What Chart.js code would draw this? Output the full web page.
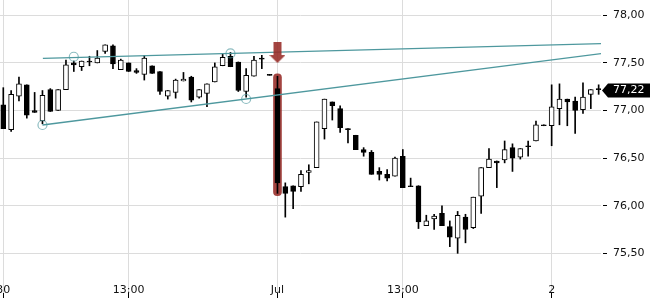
<!DOCTYPE html>
<html><head><meta charset="utf-8">
<script src="https://cdn.jsdelivr.net/npm/chart.js@4.4.1/dist/chart.umd.min.js"></script>
<style>html,body{margin:0;padding:0;background:#fff}</style>
</head><body>
<canvas id="c" width="650" height="300" style="width:650px;height:300px;display:block"></canvas>
<script>
// ---- data ----
const opens  = [77.06,76.80,77.15,77.27,77.00,76.89,77.22,77.00,77.22,77.50,77.46,77.52,77.50,77.62,77.68,77.43,77.50,77.42,77.38,77.47,
                77.41,77.15,77.19,77.31,77.35,77.14,77.18,77.30,77.47,77.57,77.51,77.20,77.36,77.55,77.38,77.23,76.20,76.21,76.20,76.35,
                76.40,76.81,77.09,77.02,76.81,76.74,76.59,76.56,76.36,76.33,76.31,76.52,76.21,76.21,75.79,75.86,75.92,75.78,75.66,75.88,
                75.77,76.10,76.40,76.47,76.48,76.61,76.51,76.63,76.68,76.85,76.84,77.02,77.12,77.10,77.01,77.17,77.23];
const highs  = [77.24,77.21,77.35,77.27,77.19,77.21,77.23,77.22,77.53,77.52,77.52,77.57,77.63,77.69,77.69,77.54,77.50,77.44,77.58,77.47,
                77.41,77.21,77.33,77.40,77.36,77.22,77.28,77.50,77.59,77.61,77.51,77.44,77.57,77.58,77.38,77.36,76.24,76.21,76.37,76.43,
                76.88,77.12,77.09,77.05,76.81,76.74,76.61,76.58,76.40,76.38,76.51,76.59,76.29,76.21,75.90,75.91,76.00,75.84,75.94,75.91,
                76.09,76.40,76.60,76.47,76.68,76.65,76.60,76.68,76.89,76.85,77.27,77.28,77.12,77.14,77.29,77.22,77.27];
const lows   = [76.81,76.78,77.10,76.92,76.98,76.86,76.99,77.00,77.22,77.41,77.42,77.47,77.50,77.60,77.44,77.43,77.41,77.39,77.32,77.39,
                77.17,77.12,77.13,77.31,77.09,77.13,77.04,77.30,77.47,77.46,77.20,77.14,77.36,77.44,77.37,76.13,75.88,75.97,76.15,76.23,
                76.40,76.70,76.90,76.77,76.66,76.59,76.52,76.33,76.27,76.26,76.31,76.19,76.20,75.76,75.79,75.75,75.79,75.57,75.50,75.61,
                75.76,75.92,76.40,76.19,76.45,76.36,76.49,76.52,76.68,76.84,76.63,76.85,76.84,76.76,76.97,77.02,77.17];
const closes = [76.81,77.17,77.28,76.95,76.98,77.16,76.99,77.22,77.48,77.48,77.52,77.51,77.55,77.69,77.49,77.53,77.41,77.40,77.55,77.39,
                77.20,77.21,77.32,77.33,77.11,77.22,77.28,77.46,77.56,77.46,77.21,77.37,77.53,77.54,77.37,76.24,76.13,76.15,76.33,76.37,
                76.88,77.12,77.05,76.82,76.80,76.59,76.56,76.33,76.33,76.29,76.50,76.19,76.20,75.83,75.84,75.89,75.79,75.67,75.90,75.75,
                76.09,76.40,76.49,76.45,76.59,76.50,76.60,76.62,76.85,76.84,77.04,77.12,77.09,77.00,77.14,77.22,77.22];
const xTickIndex  = [0, 16, 35, 51, 70];
const xTickLabels = ['30', '13:00', 'Jul', '13:00', '2'];
const yTicks = [75.5, 76.0, 76.5, 77.0, 77.5, 78.0];
const signalIndex = 35;
const signalRange = [76.105, 77.385];
const arrowLevel = 77.609;
const upperTrend = [{x: 5.05, y: 77.548}, {x: 76.6, y: 77.703}];
const lowerTrend = [{x: 5.0, y: 76.848}, {x: 76.6, y: 77.600}];
const pivots = [{x: 5, y: 76.848}, {x: 9, y: 77.565}, {x: 29, y: 77.600}, {x: 31, y: 77.121}];

// ---- helpers ----
const fmt = v => v.toFixed(2).replace('.', ',');
const idx = opens.map((_, i) => i);
const RED = 'rgba(150,42,38,0.88)';
const TEAL = 'rgb(78,152,158)';

const arrowImg = document.createElement('canvas');
arrowImg.width = 16; arrowImg.height = 21;
(() => {
  const g = arrowImg.getContext('2d');
  g.fillStyle = RED;
  g.fillRect(4, 0, 8, 13);
  g.beginPath(); g.moveTo(0, 13); g.lineTo(16, 13); g.lineTo(8, 21); g.closePath(); g.fill();
})();

const lastPriceTag = {
  id: 'lastPriceTag',
  afterDraw(chart) {
    const v = closes[closes.length - 1];
    const y = Math.round(chart.scales.y.getPixelForValue(v)) + 0.5;
    const x0 = chart.chartArea.right + 1;
    const ctx = chart.ctx;
    ctx.save();
    ctx.fillStyle = '#000';
    ctx.beginPath();
    ctx.moveTo(x0, y); ctx.lineTo(x0 + 6, y - 7); ctx.lineTo(chart.width, y - 7);
    ctx.lineTo(chart.width, y + 7); ctx.lineTo(x0 + 6, y + 7); ctx.closePath(); ctx.fill();
    ctx.fillStyle = '#fff';
    ctx.font = '11px "DejaVu Sans"';
    ctx.textBaseline = 'middle';
    ctx.fillText(fmt(v), 613, y);
    ctx.restore();
  }
};

Chart.defaults.font.family = '"DejaVu Sans", sans-serif';
Chart.defaults.font.size = 11;
Chart.defaults.color = '#111';

new Chart(document.getElementById('c'), {
  type: 'bar',
  data: {
    datasets: [
      { type: 'line', label: 'arrow', data: [{x: signalIndex, y: arrowLevel}], showLine: false,
        pointStyle: arrowImg, pointRadius: 8, order: 0 },
      { type: 'line', label: 'pivots', data: pivots, showLine: false, pointStyle: 'circle',
        pointRadius: 4.5, pointBorderWidth: 1.2, pointBorderColor: 'rgba(78,152,158,0.65)',
        pointBackgroundColor: 'rgba(0,0,0,0)', order: 1 },
      { type: 'line', label: 'upper', data: upperTrend, borderColor: TEAL, borderWidth: 1.3,
        pointRadius: 0, fill: false, order: 2 },
      { type: 'line', label: 'lower', data: lowerTrend, borderColor: TEAL, borderWidth: 1.3,
        pointRadius: 0, fill: false, order: 2 },
      { label: 'bodies', data: idx.map(i => ({x: i, y: [opens[i], closes[i]]})),
        backgroundColor: idx.map(i => closes[i] >= opens[i] ? '#fff' : '#000'),
        borderColor: '#000', borderWidth: 1, borderSkipped: false,
        barThickness: 5, grouped: false, order: 3 },
      { label: 'wicks', data: idx.map(i => ({x: i, y: [lows[i], highs[i]]})),
        backgroundColor: '#000', barThickness: 1, grouped: false, order: 4 },
      { label: 'signal', data: [{x: signalIndex, y: signalRange}],
        backgroundColor: RED, borderRadius: 4, borderSkipped: false,
        barThickness: 8, grouped: false, order: 5 }
    ]
  },
  options: {
    responsive: false,
    animation: false,
    devicePixelRatio: 1,
    layout: { padding: 0, autoPadding: false },
    plugins: { legend: { display: false }, tooltip: { enabled: false } },
    scales: {
      x: {
        type: 'linear', min: -0.421, max: 76.30, offset: false,
        grid: { color: '#dcdcdc', offset: false, tickColor: '#000', tickLength: 5 },
        border: { display: false },
        ticks: { autoSkip: false, maxRotation: 0, mirror: true, padding: -4,
                 callback: v => { const k = xTickIndex.indexOf(v); return k >= 0 ? xTickLabels[k] : ''; } },
        afterBuildTicks: s => { s.ticks = xTickIndex.map(v => ({value: v})); },
        afterFit: s => { s.height = 7; s.paddingLeft = 0; s.paddingRight = 0; }
      },
      y: {
        type: 'linear', position: 'right', min: 75.083, max: 78.161,
        grid: { color: '#dcdcdc', tickColor: '#000', tickLength: 6, tickBorderDash: [0, 2, 4, 20] },
        border: { display: false },
        ticks: { padding: 6, callback: v => fmt(v) },
        afterBuildTicks: s => { s.ticks = yTicks.map(v => ({value: v})); },
        afterFit: s => { s.width = 49; s.paddingTop = 0; s.paddingBottom = 0; }
      }
    }
  },
  plugins: [lastPriceTag]
});
</script>
</body></html>
